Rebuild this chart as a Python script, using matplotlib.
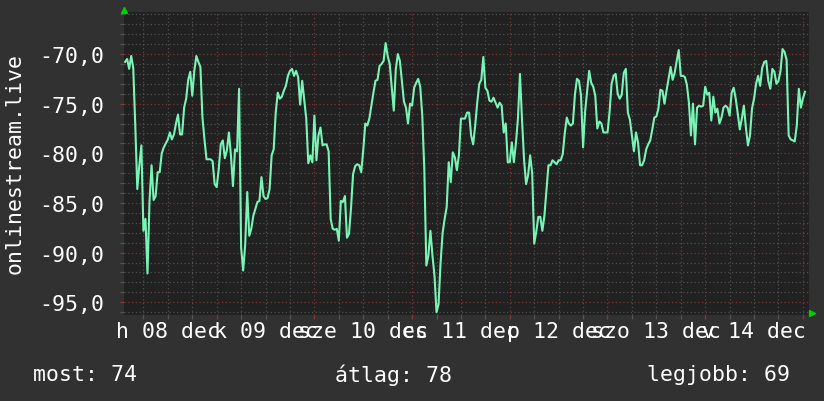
import matplotlib
matplotlib.use('Agg')
import matplotlib.pyplot as plt
import numpy as np

# signal level (dBm), half-hour samples, hours counted from Dec 8 00:00
dec08 = [-70.8, -70.5, -71.5, -70.2, -71.4, -77.2, -83.6, -81.2, -79.2, -87.8,
         -86.6, -92.1, -84.8, -81.2, -84.7, -84.3, -81.9, -81.9, -80.0, -79.4,
         -79.0, -78.6, -77.9, -78.6, -78.1, -77.0, -76.1, -78.1, -78.1, -75.4,
         -74.5, -72.6, -71.8, -74.2, -71.7, -70.2, -70.8, -71.3, -76.4, -78.6,
         -80.6, -80.6, -80.6, -80.8, -83.1]
dec09 = [-83.4, -81.6, -79.1, -78.7, -80.5, -79.7, -77.9, -80.2, -83.3, -79.6,
         -79.8, -73.5, -89.5, -91.8, -89.2, -83.9, -88.3, -87.6, -86.3, -85.6,
         -84.9, -84.8, -82.4, -84.3, -84.6, -84.5, -83.6, -80.2, -79.6, -75.9,
         -73.9, -74.5, -74.3, -73.7, -73.2, -72.2, -71.7, -71.5, -72.2, -71.7,
         -72.3, -75.1, -72.7, -74.6, -76.5, -81.0, -80.2, -80.9]
dec10 = [-76.2, -80.7, -78.2, -77.4, -79.2, -79.1, -79.1, -79.8, -86.6, -87.6,
         -87.7, -87.6, -88.8, -84.8, -84.9, -84.3, -88.5, -88.1, -85.5, -82.1,
         -81.3, -81.1, -81.2, -81.9, -79.7, -77.0, -77.2, -76.5, -75.2, -73.9,
         -72.7, -72.6, -71.2, -71.0, -70.7, -68.9, -70.2, -71.0, -73.3, -75.7,
         -71.5, -70.0, -70.7, -72.7, -74.8, -75.4, -77.0, -75.0]
dec11 = [-75.2, -73.4, -72.9, -72.5, -73.3, -76.2, -81.6, -91.3, -90.3, -87.8,
         -90.3, -92.3, -96.0, -95.2, -91.0, -88.0, -86.6, -85.4, -80.9, -82.9,
         -79.9, -80.4, -81.7, -80.2, -76.5, -76.5, -76.5, -75.9, -75.9, -78.2,
         -79.1, -77.2, -74.9, -73.0, -72.6, -70.3, -73.4, -73.7, -74.7, -74.8,
         -74.4, -74.9, -75.4, -74.9, -75.2, -77.9, -77.0, -80.9]
dec12 = [-80.9, -78.9, -80.9, -79.0, -76.5, -72.0, -76.6, -80.6, -83.1, -82.2,
         -80.2, -82.0, -89.1, -87.9, -86.4, -86.4, -87.8, -86.3, -83.8, -81.2,
         -81.2, -80.7, -80.9, -81.1, -80.7, -80.7, -80.1, -78.0, -76.4, -77.0,
         -77.2, -77.0, -74.1, -72.5, -72.7, -74.2, -79.4, -75.8, -73.8, -71.7,
         -72.9, -73.3, -74.2, -77.5, -76.8, -77.0, -77.9, -77.9]
dec13 = [-77.9, -75.9, -73.0, -72.2, -72.0, -74.0, -74.5, -74.1, -71.9, -71.5,
         -75.9, -76.6, -78.2, -79.8, -77.9, -78.9, -81.2, -81.2, -80.7, -79.6,
         -79.1, -78.7, -77.6, -76.4, -76.3, -75.5, -73.6, -73.7, -75.0, -73.7,
         -72.5, -71.3, -72.6, -71.9, -70.7, -69.6, -72.2, -72.2, -72.3, -73.1,
         -74.9, -78.2, -75.0, -79.1, -75.4, -75.2, -75.3, -75.2]
dec14 = [-73.3, -74.1, -73.9, -76.7, -74.3, -75.9, -75.5, -77.0, -76.4, -75.4,
         -75.2, -75.4, -76.2, -73.9, -73.4, -74.5, -76.0, -77.6, -76.5, -75.2,
         -77.4, -79.2, -78.2, -75.5, -74.5, -73.0, -72.2, -73.2, -71.4, -70.8,
         -70.7, -72.7, -73.5, -71.5, -71.8, -73.0, -72.7, -71.7, -69.5, -69.8,
         -70.6, -78.2, -78.6, -78.7, -78.8, -77.2, -73.5, -75.4]
dec15 = [-74.5, -73.8]

day_labels = ['h 08 dec', 'k 09 dec', 'sze 10 dec', 'cs 11 dec',
              'p 12 dec', 'szo 13 dec', 'v 14 dec']
y_ticks = [-95, -90, -85, -80, -75, -70]
stat_most = 74
stat_atlag = 78
stat_legjobb = 69

values = np.concatenate([dec08, dec09, dec10, dec11, dec12, dec13, dec14, dec15])
hours = 1.5 + 0.5 * np.arange(len(values))

BG = '#313131'
CANVAS = '#212121'
FONT = 'DejaVu Sans Mono'
FS = 15.5

fig = plt.figure(figsize=(8.24, 4.02), dpi=100, facecolor=BG)
ax = fig.add_axes([124 / 824, 1 - 316 / 402, 685 / 824, 303 / 402])
ax.set_facecolor(CANVAS)

ax.plot(hours, values, color='#78f5b6', lw=1.5, zorder=3)

ax.set_xlim(1.23, 169.5)
ax.set_ylim(-96.28, -65.77)

# racs
ax.set_xticks(np.arange(24, 169, 24))
ax.set_xticks(np.arange(6, 170, 6), minor=True)
ax.set_xticklabels([])
ax.set_yticks(y_ticks)
ax.set_yticks(np.arange(-96, -65, 1), minor=True)
ax.set_yticklabels([f'{v:.1f}'.replace('.', ',') for v in y_ticks],
                   fontfamily=FONT, fontsize=FS, color='white')
ax.grid(which='major', color='#7a3434', linestyle=(0, (1, 2)), lw=0.9)
ax.grid(which='minor', color='#505050', linestyle=(0, (1, 2)), lw=0.9)
ax.set_axisbelow(True)
ax.tick_params(which='major', color='#8a3a3a', length=3, width=0.9, pad=11)
ax.tick_params(which='minor', color='#555555', length=3, width=0.9)
for s in ax.spines.values():
    s.set_visible(False)

# napok feliratai delben
for i, lab in enumerate(day_labels):
    ax.annotate(lab, xy=(12 + 24 * i, 0), xycoords=ax.get_xaxis_transform(),
                xytext=(0, -4), textcoords='offset points', ha='center',
                va='top', fontfamily=FONT, fontsize=FS, color='white')

# nyilak
ax.plot([0], [1.008], marker='^', ms=4, color='#00d000', transform=ax.transAxes,
        clip_on=False)
ax.plot([1.005], [0.005], marker='>', ms=4, color='#00d000', transform=ax.transAxes,
        clip_on=False)

fig.text(15 / 824, 1 - 163 / 402, 'onlinestream.live', rotation=90, ha='center',
         va='center', fontfamily=FONT, fontsize=FS, color='white')

fig.text(33 / 824, 1 - 375 / 402, f'most: {stat_most}', ha='left', va='center',
         fontfamily=FONT, fontsize=FS, color='white')
fig.text(335 / 824, 1 - 375 / 402, f'átlag: {stat_atlag}', ha='left', va='center',
         fontfamily=FONT, fontsize=FS, color='white')
fig.text(790 / 824, 1 - 375 / 402, f'legjobb: {stat_legjobb}', ha='right', va='center',
         fontfamily=FONT, fontsize=FS, color='white')

fig.savefig('out.png', dpi=100, facecolor=BG)
